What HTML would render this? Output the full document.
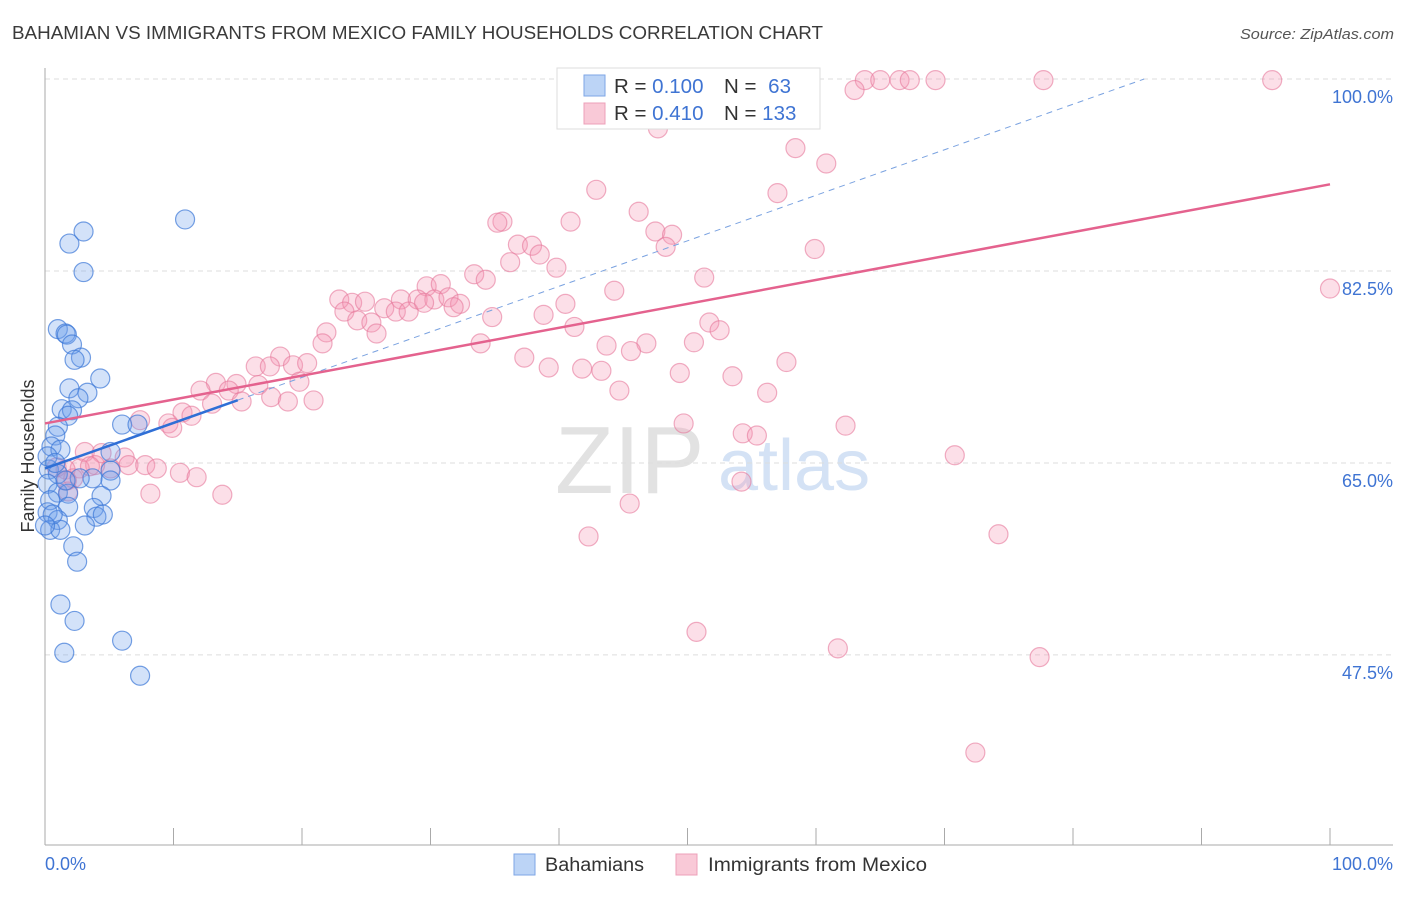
<!DOCTYPE html>
<html><head><meta charset="utf-8"><style>
body{margin:0;background:#fff;font-family:"Liberation Sans",sans-serif}
svg text{font-family:"Liberation Sans",sans-serif}
</style></head><body>
<svg id="chart" width="1406" height="892" viewBox="0 0 1406 892" xmlns="http://www.w3.org/2000/svg">
<text x="12" y="39" font-size="18" fill="#3a3a3a" textLength="811" lengthAdjust="spacingAndGlyphs">BAHAMIAN VS IMMIGRANTS FROM MEXICO FAMILY HOUSEHOLDS CORRELATION CHART</text>
<text x="1394" y="39" font-size="15" fill="#555" font-style="italic" text-anchor="end" textLength="154" lengthAdjust="spacingAndGlyphs">Source: ZipAtlas.com</text>
<text transform="translate(34,456) rotate(-90)" font-size="18" fill="#333" text-anchor="middle">Family Households</text>
<g>
<text x="555" y="493" font-size="96" fill="#e2e2e2" font-family="Liberation Serif,serif">ZIP</text>
<text x="718" y="490" font-size="72" fill="#d4e2f5">atlas</text>
</g>
<g id="grid"></g>
<g id="axes"></g>
<g id="marks"></g>
<g id="trend"></g>
<g>
<rect x="557" y="68" width="263" height="61" fill="#fff" stroke="#ddd"/>
<rect x="584" y="75" width="21" height="21" fill="#bcd4f6" stroke="#7ea6e6"/>
<rect x="584" y="103" width="21" height="21" fill="#f9c9d7" stroke="#eda0b8"/>
<text x="614" y="93" font-size="20.5" fill="#333">R = <tspan fill="#3f74d3">0.100</tspan></text>
<text x="724" y="93" font-size="20.5" fill="#333">N = <tspan fill="#3f74d3" dx="6">63</tspan></text>
<text x="614" y="120" font-size="20.5" fill="#333">R = <tspan fill="#3f74d3">0.410</tspan></text>
<text x="724" y="120" font-size="20.5" fill="#333">N = <tspan fill="#3f74d3">133</tspan></text>
</g>
<g>
<rect x="514" y="854" width="21" height="21" fill="#bcd4f6" stroke="#7ea6e6"/>
<text x="545" y="871" font-size="19" fill="#333" textLength="99" lengthAdjust="spacingAndGlyphs">Bahamians</text>
<rect x="676" y="854" width="21" height="21" fill="#f9c9d7" stroke="#eda0b8"/>
<text x="708" y="871" font-size="19" fill="#333" textLength="219" lengthAdjust="spacingAndGlyphs">Immigrants from Mexico</text>
</g>
</svg>
<script>
const yTicks=[100,82.5,65,47.5];
const yTickLabels=["100.0%","82.5%","65.0%","47.5%"];
const xTickValues=[0,10,20,30,40,50,60,70,80,90,100];
const blueX=[10.9,1.9,3.0,3.0,1.0,1.6,1.7,2.1,2.8,2.3,4.3,1.9,3.3,2.6,1.3,2.1,1.8,1.0,0.8,6.0,7.2,0.5,1.2,5.1,0.3,1.0,5.1,3.7,2.7,5.1,0.2,1.0,1.8,4.4,0.4,1.8,3.8,0.2,1.0,4.0,4.5,3.1,0.4,1.2,2.2,2.5,1.2,2.3,6.0,1.5,7.4,0.2,0.8,1.6,0.6,0];
const blueY=[87.2,85.0,86.1,82.4,77.2,76.8,76.7,75.8,74.6,74.4,72.7,71.8,71.4,70.9,69.9,69.8,69.3,68.3,67.5,68.5,68.5,66.5,66.2,66.0,64.4,64.0,64.3,63.6,63.6,63.4,63.1,62.3,62.2,62.0,61.6,61.0,60.9,60.5,59.8,60.1,60.3,59.3,58.9,58.9,57.4,56.0,52.1,50.6,48.8,47.7,45.6,65.6,65.0,63.4,60.3,59.3];
const pinkX=[55.4,58.8,63.8,65.0,66.5,67.3,69.3,77.7,95.5,63.0,47.7,58.4,60.8,42.9,57.0,46.2,35.6,35.2,40.9,47.5,48.8,48.3,36.8,37.9,38.5,36.2,39.8,59.9,51.3,33.4,34.3,29.7,30.8,100,22.9,23.9,24.9,26.4,27.7,29.0,30.3,31.4,32.3,40.5,44.3,23.3,24.3,25.4,25.8,27.3,28.3,29.5,31.8,34.8,38.8,41.2,51.7,52.5,21.9,21.6,33.9,43.7,46.8,45.6,37.3,39.2,41.8,43.3,50.5,57.7,49.4,53.5,44.7,16.4,18.3,17.5,19.3,20.4,19.8,13.3,14.9,16.6,12.1,14.3,17.6,18.9,20.9,15.3,13.0,10.7,11.4,9.6,9.9,7.4,49.7,54.3,55.4,62.3,56.2,3.1,4.4,6.2,3.9,5.1,6.5,7.8,8.7,10.5,11.8,2.7,1.6,2.2,1.8,0.9,8.2,13.8,54.2,70.8,45.5,42.3,74.2,50.7,61.7,77.4,72.4,1.7,3.5];
const pinkY=[99.9,99.9,99.9,99.9,99.9,99.9,99.9,99.9,99.9,99.0,95.5,93.7,92.3,89.9,89.6,87.9,87.0,86.9,87.0,86.1,85.8,84.7,84.9,84.8,84.0,83.3,82.8,84.5,81.9,82.2,81.7,81.1,81.3,80.9,79.9,79.6,79.7,79.1,79.9,79.9,79.9,80.1,79.5,79.5,80.7,78.8,78.0,77.8,76.8,78.8,78.8,79.6,79.2,78.3,78.5,77.4,77.8,77.1,76.9,75.9,75.9,75.7,75.9,75.2,74.6,73.7,73.6,73.4,76.0,74.2,73.2,72.9,71.6,73.8,74.7,73.8,73.9,74.1,72.4,72.3,72.2,72.1,71.6,71.6,71.0,70.6,70.7,70.6,70.4,69.6,69.3,68.6,68.2,68.9,68.6,67.7,67.5,68.4,71.4,66.0,65.9,65.5,64.8,64.5,64.8,64.8,64.5,64.1,63.7,64.5,64.4,63.6,62.4,64.6,62.2,62.1,63.3,65.7,61.3,58.3,58.5,49.6,48.1,47.3,38.6,63.4,64.7];
const blueTrend=[64.5,0.415,15];
const pinkTrend=[68.6,0.218];

const NS="http://www.w3.org/2000/svg";
const X0=45,X1=1330,Y100=79,PXPER=10.97;
const sx=v=>X0+(X1-X0)*v/100;
const sy=v=>Y100+(100-v)*PXPER;
function mk(tag,attrs,parent){const e=document.createElementNS(NS,tag);for(const k in attrs)e.setAttribute(k,attrs[k]);parent.appendChild(e);return e;}
const grid=document.getElementById('grid'),axes=document.getElementById('axes'),marks=document.getElementById('marks'),trend=document.getElementById('trend');
yTicks.forEach((t,i)=>{
 const l=mk('line',{x1:X0,x2:1393,y1:sy(t),y2:sy(t),stroke:'#ddd','stroke-dasharray':'5,4'},grid);
 
 
 const tx=mk('text',{x:1393,y:sy(t)+24,'font-size':18,fill:'#3f74d3','text-anchor':'end'},axes);
 tx.textContent=yTickLabels[i];
 
 
});
const ya=mk('line',{x1:X0,x2:X0,y1:68,y2:845,stroke:'#aaa'},axes);


const xa=mk('line',{x1:X0,x2:1393,y1:845,y2:845,stroke:'#aaa'},axes);


xTickValues.forEach(v=>{
 const t=mk('line',{x1:sx(v),x2:sx(v),y1:828,y2:845,stroke:'#aaa'},axes);
 
 
});
const xl0=mk('text',{x:45,y:870,'font-size':18,fill:'#3f74d3'},axes);xl0.textContent='0.0%';


const xl1=mk('text',{x:1393,y:870,'font-size':18,fill:'#3f74d3','text-anchor':'end'},axes);xl1.textContent='100.0%';


pinkX.forEach((v,i)=>{
 const c=mk('circle',{cx:sx(v),cy:sy(pinkY[i]),r:9.5,fill:'rgba(244,150,178,0.3)',stroke:'rgba(230,120,155,0.6)','stroke-width':1.2},marks);
 
 
});
blueX.forEach((v,i)=>{
 const c=mk('circle',{cx:sx(v),cy:sy(blueY[i]),r:9.5,fill:'rgba(110,160,235,0.3)',stroke:'rgba(60,120,215,0.7)','stroke-width':1.2},marks);
 
 
});
const bEndDash=(100-blueTrend[0])/blueTrend[1];
const bd=mk('line',{x1:sx(blueTrend[2]),y1:sy(blueTrend[0]+blueTrend[1]*blueTrend[2]),x2:sx(bEndDash),y2:sy(100),stroke:'#7aa2e0','stroke-width':1,'stroke-dasharray':'6,5'},trend);


const pl=mk('line',{x1:sx(0),y1:sy(pinkTrend[0]),x2:sx(100),y2:sy(pinkTrend[0]+pinkTrend[1]*100),stroke:'#e4628e','stroke-width':2.5},trend);


const bl=mk('line',{x1:sx(0),y1:sy(blueTrend[0]),x2:sx(blueTrend[2]),y2:sy(blueTrend[0]+blueTrend[1]*blueTrend[2]),stroke:'#2f6fd6','stroke-width':2.5},trend);


</script>
</body></html>
